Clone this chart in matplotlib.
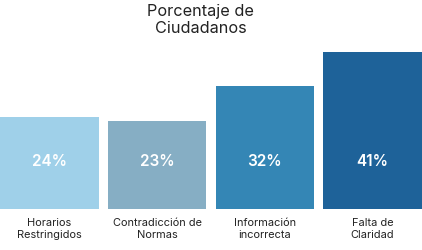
import matplotlib
matplotlib.use("Agg")
import matplotlib.pyplot as plt

plt.rcParams['font.family'] = ['Inter', 'DejaVu Sans']

categories = ["Horarios\nRestringidos", "Contradicción de\nNormas", "Información\nincorrecta", "Falta de\nClaridad"]
values = [24, 23, 32, 41]
colors = ["#9fd0e9", "#86aec4", "#3486b5", "#1e6299"]
label_y = 12.5

width = 0.916
fig = plt.figure(figsize=(4.22, 2.5), dpi=100)
ax = fig.add_axes([0, 1 - 209 / 250, 1, 157 / 250])
x = range(len(values))
ax.bar(x, values, width=width, color=colors)
for i, v in enumerate(values):
    ax.text(i, label_y, f"{v}%", ha='center', va='center', color='white',
            fontsize=11, fontweight='semibold')
ax.set_xlim(-width / 2, len(values) - 1 + width / 2)
ax.set_ylim(0, 41)
ax.set_xticks(list(x))
ax.set_xticklabels(categories, fontsize=7.9, color='#222222', linespacing=1.3)
ax.tick_params(axis='x', length=0, pad=6.5)
ax.set_yticks([])
for s in ax.spines.values():
    s.set_visible(False)

fig.text(0.476, 0.985, "Porcentaje de\nCiudadanos", ha='center', va='top',
         fontsize=11.7, color='#222222', linespacing=1.2)

fig.savefig("out.png", dpi=100, facecolor='white')
